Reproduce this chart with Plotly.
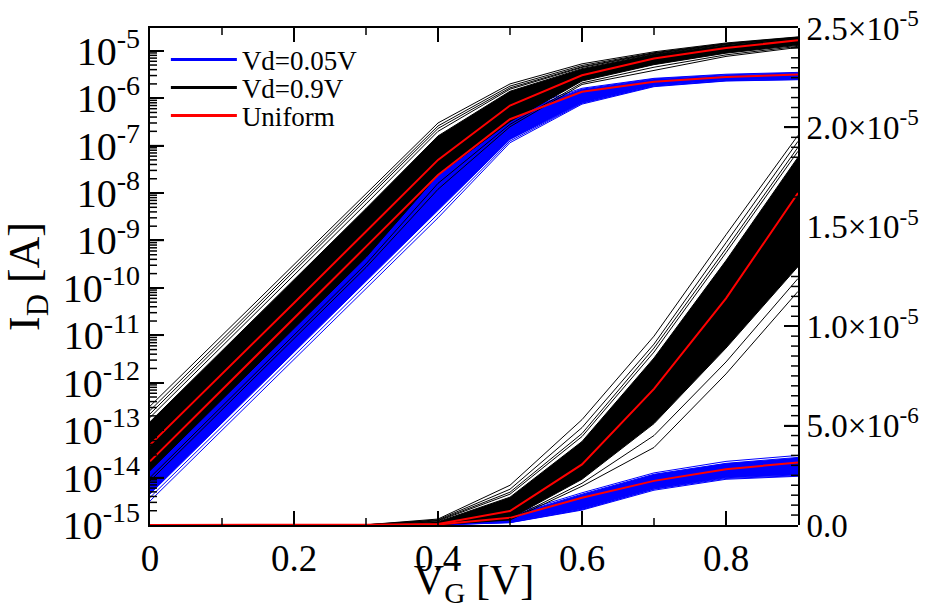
import math
import plotly.graph_objects as go

# ---------------- data ----------------
VG = [0.0, 0.1, 0.2, 0.3, 0.4, 0.5, 0.6, 0.7, 0.8, 0.9]

# Vd = 0.05 V Monte-Carlo spread (blue)
BLUE_LO = [4.5e-15, 1.4e-13, 4.5e-12, 1.4e-10, 4.3e-9, 1.35e-7, 8.0e-7, 1.82e-6, 2.38e-6, 2.52e-6]
BLUE_HI = [3.0e-14, 9.5e-13, 3.0e-11, 9.5e-10, 3.0e-8, 4.5e-7, 1.55e-6, 2.55e-6, 3.1e-6, 3.4e-6]
BLUE_OUT_1 = [3.2e-15, 1.0e-13, 3.2e-12, 1.0e-10, 3.0e-9, 1.15e-7, 7.5e-7, 1.75e-6, 2.3e-6, 2.45e-6]
BLUE_OUT_2 = [3.8e-15, 1.2e-13, 3.8e-12, 1.2e-10, 3.6e-9, 1.25e-7, 7.8e-7, 1.8e-6, 2.34e-6, 2.48e-6]
BLUE_OUT_3 = [5.2e-14, 1.6e-12, 5.0e-11, 1.6e-9, 4.5e-8, 5.2e-7, 1.62e-6, 2.62e-6, 3.2e-6, 3.5e-6]

# Vd = 0.9 V Monte-Carlo spread (black)
BLACK_LO = [1.4e-14, 4.4e-13, 1.4e-11, 4.4e-10, 2.4e-8, 3.2e-7, 2.3e-6, 5.1e-6, 8.9e-6, 13.0e-6]
BLACK_HI = [1.5e-13, 4.7e-12, 1.5e-10, 4.7e-9, 1.6e-7, 1.4e-6, 4.2e-6, 8.4e-6, 13.3e-6, 18.5e-6]
BLACK_OUT_1 = [3.2e-13, 1.0e-11, 3.2e-10, 1.0e-8, 3.0e-7, 2.0e-6, 5.3e-6, 9.5e-6, 14.6e-6, 19.6e-6]
BLACK_OUT_2 = [2.6e-13, 8.2e-12, 2.6e-10, 8.2e-9, 2.6e-7, 1.8e-6, 4.9e-6, 9.1e-6, 14.2e-6, 19.3e-6]
BLACK_OUT_3 = [2.2e-13, 7.0e-12, 2.2e-10, 7.0e-9, 2.3e-7, 1.65e-6, 4.6e-6, 8.9e-6, 13.9e-6, 19.0e-6]
BLACK_OUT_4 = [1.85e-13, 5.9e-12, 1.85e-10, 5.9e-9, 2.0e-7, 1.55e-6, 4.45e-6, 8.7e-6, 13.7e-6, 18.8e-6]
BLACK_OUT_5 = [1.0e-14, 3.2e-13, 1.0e-11, 3.2e-10, 1.6e-8, 2.8e-7, 2.1e-6, 4.5e-6, 8.2e-6, 12.4e-6]
BLACK_OUT_6 = [8.5e-15, 2.7e-13, 8.5e-12, 2.7e-10, 1.2e-8, 2.5e-7, 1.95e-6, 3.9e-6, 7.6e-6, 11.75e-6]

# Uniform (nominal) devices (red)
RED_VD09 = [4.9e-14, 1.5e-12, 4.8e-11, 1.55e-9, 5.0e-8, 7.0e-7, 3.05e-6, 6.85e-6, 11.4e-6, 16.7e-6]
RED_VD005 = [2.2e-14, 7.0e-13, 2.3e-11, 7.4e-10, 2.4e-8, 3.6e-7, 1.37e-6, 2.22e-6, 2.8e-6, 3.15e-6]

LEGEND_NAMES = ["Vd=0.05V", "Vd=0.9V", "Uniform"]

X_TICKS = [0, 0.2, 0.4, 0.6, 0.8]
X_TICKTEXT = ["0", "0.2", "0.4", "0.6", "0.8"]
X_MINOR = [0.1, 0.3, 0.5, 0.7]
LOG_EXPONENTS = [-15, -14, -13, -12, -11, -10, -9, -8, -7, -6, -5]
LOG_MINOR_DIGITS = [2, 3, 4, 5, 6, 7, 8, 9]
LIN_TICKS = [0, 5e-6, 1e-5, 1.5e-5, 2e-5, 2.5e-5]
LIN_TICKTEXT = ["0.0", "5.0×10<sup>-6</sup>", "1.0×10<sup>-5</sup>",
                "1.5×10<sup>-5</sup>", "2.0×10<sup>-5</sup>", "2.5×10<sup>-5</sup>"]
LIN_MINOR_STEP = 5e-7

BLUE = "#0000ff"
BLACK = "#000000"
RED = "#ff0000"
FONT = "Liberation Serif, Times New Roman, serif"

X_RANGE = [0, 0.9]
LOG_RANGE = [-15, -4.52]
LIN_RANGE = [0, 2.5e-5]
MAJOR_LEN = 14
MINOR_LEN = 7

# log view lives on (x, y); linear view on a second subplot (x2, y2) stacked on top
AXES = (("x", "y"), ("x2", "y2"))

fig = go.Figure()


def band(lo, hi, color):
    for xa, ya in AXES:
        fig.add_trace(go.Scatter(x=VG, y=lo, mode="lines", xaxis=xa, yaxis=ya,
                                 line=dict(color=color, width=1),
                                 showlegend=False, hoverinfo="skip"))
        fig.add_trace(go.Scatter(x=VG, y=hi, mode="lines", xaxis=xa, yaxis=ya,
                                 line=dict(color=color, width=1),
                                 fill="tonexty", fillcolor=color,
                                 showlegend=False, hoverinfo="skip"))


def curve(vals, color, width):
    for xa, ya in AXES:
        fig.add_trace(go.Scatter(x=VG, y=vals, mode="lines", xaxis=xa, yaxis=ya,
                                 line=dict(color=color, width=width),
                                 showlegend=False, hoverinfo="skip"))


band(BLUE_LO, BLUE_HI, BLUE)
for c in (BLUE_OUT_1, BLUE_OUT_2, BLUE_OUT_3):
    curve(c, BLUE, 1)

band(BLACK_LO, BLACK_HI, BLACK)
for c in (BLACK_OUT_1, BLACK_OUT_2, BLACK_OUT_3, BLACK_OUT_4, BLACK_OUT_5, BLACK_OUT_6):
    curve(c, BLACK, 1)

curve(RED_VD09, RED, 2)
curve(RED_VD005, RED, 2)

# legend entries, one legend box per entry so the row spacing matches
legend_ids = ["legend", "legend2", "legend3"]
for name, color, lid in zip(LEGEND_NAMES, (BLUE, BLACK, RED), legend_ids):
    fig.add_trace(go.Scatter(x=[None], y=[None], mode="lines", name=name, legend=lid,
                             line=dict(color=color, width=3)))

log_minor = [d * 10.0 ** e for e in LOG_EXPONENTS[:-1] for d in LOG_MINOR_DIGITS]
n_lin = int(round(LIN_RANGE[1] / LIN_MINOR_STEP))
lin_minor = [i * LIN_MINOR_STEP for i in range(1, n_lin) if i % 10 != 0]

# ---- tick marks (inside, on all four sides), placed from the tick value lists ----
tick_line = dict(color="black", width=1.5)
shapes = []


def x_ticks(vals, length):
    for v in vals:
        if X_RANGE[0] < v < X_RANGE[1]:
            for anchor, sign in ((0, 1), (1, -1)):      # bottom and mirrored top
                shapes.append(dict(type="line", xref="x", x0=v, x1=v,
                                   yref="paper", ysizemode="pixel", yanchor=anchor,
                                   y0=0, y1=sign * length, line=tick_line))


def log_y_ticks(vals, length):
    span = LOG_RANGE[1] - LOG_RANGE[0]
    for v in vals:
        p = (math.log10(v) - LOG_RANGE[0]) / span
        if 0 < p < 1:
            shapes.append(dict(type="line", xref="paper", xsizemode="pixel", xanchor=0,
                               x0=0, x1=length, yref="paper", y0=p, y1=p, line=tick_line))


def lin_y_ticks(vals, length):
    for v in vals:
        if LIN_RANGE[0] < v < LIN_RANGE[1]:
            shapes.append(dict(type="line", xref="paper", xsizemode="pixel", xanchor=1,
                               x0=0, x1=-length, yref="y2", y0=v, y1=v, line=tick_line))


x_ticks(X_TICKS, MAJOR_LEN)
x_ticks(X_MINOR, MINOR_LEN)
log_y_ticks([10.0 ** e for e in LOG_EXPONENTS], MAJOR_LEN)
log_y_ticks(log_minor, MINOR_LEN)
lin_y_ticks(LIN_TICKS, MAJOR_LEN)
lin_y_ticks(lin_minor, MINOR_LEN)


def legend_box(ypaper):
    return dict(x=0.0245, y=ypaper, xanchor="left", yanchor="middle",
                bgcolor="rgba(0,0,0,0)", font=dict(size=27, family=FONT),
                itemwidth=66)


fig.update_layout(
    width=945, height=609,
    margin=dict(l=150, r=147, t=28, b=84, autoexpand=False),
    paper_bgcolor="white", plot_bgcolor="rgba(0,0,0,0)",
    font=dict(family=FONT, color="black", size=34),
    showlegend=True,
    legend=legend_box(0.9356),
    legend2=legend_box(0.8793),
    legend3=legend_box(0.8229),
    shapes=shapes,
    xaxis=dict(domain=[0, 1], anchor="y", range=X_RANGE, tickmode="array",
               tickvals=X_TICKS, ticktext=X_TICKTEXT,
               ticks="inside", ticklen=MAJOR_LEN, tickwidth=2, tickcolor="black",
               showline=True, linecolor="black", linewidth=2, mirror="ticks",
               showgrid=False, zeroline=False,
               tickfont=dict(size=37, family=FONT),
               title=dict(text="V<sub>G</sub> [V]", font=dict(size=42, family=FONT), standoff=2)),
    yaxis=dict(domain=[0, 1], anchor="x", type="log", range=LOG_RANGE, tickmode="array",
               tickvals=[10.0 ** e for e in LOG_EXPONENTS],
               ticktext=["10<sup>%d</sup>" % e for e in LOG_EXPONENTS],
               ticks="inside", ticklen=MAJOR_LEN, tickwidth=2, tickcolor="black",
               showline=True, linecolor="black", linewidth=2,
               showgrid=False, zeroline=False,
               tickfont=dict(size=40, family=FONT),
               title=dict(text="I<sub>D</sub> [A]", font=dict(size=44, family=FONT), standoff=10)),
    xaxis2=dict(domain=[0, 1], anchor="y2", range=X_RANGE, visible=False,
                showgrid=False, zeroline=False),
    yaxis2=dict(domain=[0, 1], anchor="x2", side="right", range=LIN_RANGE,
                tickmode="array", tickvals=LIN_TICKS, ticktext=LIN_TICKTEXT,
                ticks="inside", ticklen=MAJOR_LEN, tickwidth=2, tickcolor="black",
                showline=True, linecolor="black", linewidth=2,
                showgrid=False, zeroline=False,
                tickfont=dict(size=33, family=FONT)),
)

fig.write_html("out.html", config={"displayModeBar": False},
               post_script="document.body.style.margin='0px';")
